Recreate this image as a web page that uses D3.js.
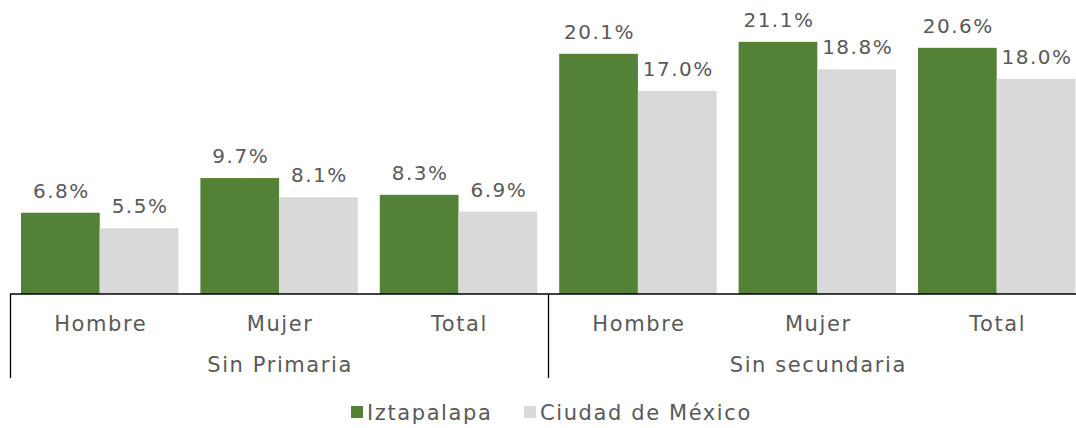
<!DOCTYPE html>
<html>
<head>
<meta charset="utf-8">
<script src="https://cdn.jsdelivr.net/npm/d3@7"></script>
<style>
  body { margin: 0; background: #fff; }
  text { font-family: "DejaVu Sans", sans-serif; fill: #595959; }
</style>
</head>
<body>
<div id="chart"></div>
<script>
// data
const groups = ["Sin Primaria", "Sin secundaria"];
const categories = ["Hombre", "Mujer", "Total"];
const seriesNames = ["Iztapalapa", "Ciudad de México"];
const iztapalapa = [6.8, 9.7, 8.3, 20.1, 21.1, 20.6];
const cdmx = [5.5, 8.1, 6.9, 17.0, 18.8, 18.0];
const colors = ["#538135", "#d9d9d9"];

const width = 1076, height = 428;
const baseY = 294;
const left = 10, band = 179.4;

const svg = d3.select("#chart").append("svg")
    .attr("width", width)
    .attr("height", height);

// one slot per group/category pair
const slots = [];
groups.forEach(g => categories.forEach(c => slots.push(g + "|" + c)));

const x = d3.scaleBand()
    .domain(slots)
    .range([left, left + band * slots.length])
    .paddingInner(0.1226)
    .paddingOuter(0.0613);

const xSeries = d3.scaleBand()
    .domain(seriesNames)
    .range([0, x.bandwidth()]);

const y = d3.scaleLinear()
    .domain([0, 10])
    .range([baseY, baseY - 119.5]);

const values = [iztapalapa, cdmx];

seriesNames.forEach((s, si) => {
    const g = svg.append("g");
    g.selectAll("rect")
        .data(values[si])
        .enter()
        .append("rect")
        .attr("x", (d, i) => x(slots[i]) + xSeries(s))
        .attr("y", d => y(d))
        .attr("width", xSeries.bandwidth())
        .attr("height", d => baseY - y(d))
        .attr("fill", colors[si]);

    g.selectAll("text")
        .data(values[si])
        .enter()
        .append("text")
        .attr("x", (d, i) => x(slots[i]) + xSeries(s) + xSeries.bandwidth() / 2 + 1)
        .attr("y", d => y(d) - 15)
        .attr("text-anchor", "middle")
        .style("font-size", "20px")
        .style("letter-spacing", "1.5px")
        .text(d => d.toFixed(1) + "%");
});

// axis line and group separators
svg.append("line")
    .attr("x1", left).attr("x2", width)
    .attr("y1", baseY).attr("y2", baseY)
    .attr("stroke", "#000").attr("stroke-width", 1.3);

[10.5, 548.5].forEach(xx => {
    svg.append("line")
        .attr("x1", xx).attr("x2", xx)
        .attr("y1", baseY).attr("y2", 378)
        .attr("stroke", "#000").attr("stroke-width", 1.3);
});

// category labels
svg.append("g").selectAll("text")
    .data(slots)
    .enter()
    .append("text")
    .attr("x", d => x(d) + x.bandwidth() / 2 + 1)
    .attr("y", 331)
    .attr("text-anchor", "middle")
    .style("font-size", "21px")
    .style("letter-spacing", "1.6px")
    .text(d => d.split("|")[1]);

// group labels
svg.append("g").selectAll("text")
    .data(groups)
    .enter()
    .append("text")
    .attr("x", (d, i) => left + band * categories.length * (i + 0.5) + 1)
    .attr("y", 372)
    .attr("text-anchor", "middle")
    .style("font-size", "21px")
    .style("letter-spacing", "1.6px")
    .text(d => d);

// legend
const legend = svg.append("g");
const legendX = [351, 524];
seriesNames.forEach((s, i) => {
    legend.append("rect")
        .attr("x", legendX[i]).attr("y", 406)
        .attr("width", 12).attr("height", 12)
        .attr("fill", colors[i]);
    legend.append("text")
        .attr("x", legendX[i] + 16).attr("y", 420)
        .style("font-size", "21px")
        .style("letter-spacing", "1.6px")
        .text(s);
});
</script>
</body>
</html>
